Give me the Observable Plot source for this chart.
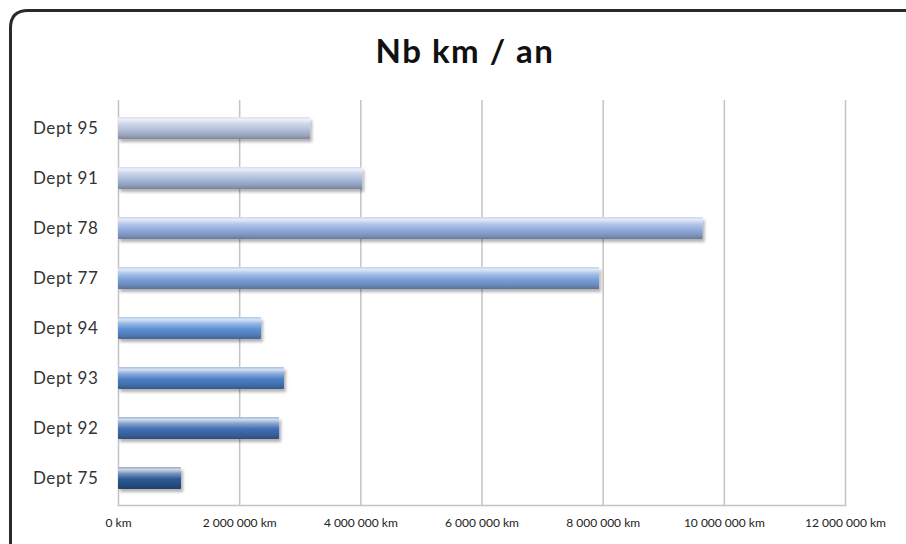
<!DOCTYPE html>
<html>
<head>
<meta charset="utf-8">
<script src="https://cdn.jsdelivr.net/npm/d3@7"></script>
<script src="https://cdn.jsdelivr.net/npm/@observablehq/plot@0.6"></script>
<style>
  html, body { margin: 0; padding: 0; background: #fff; overflow: hidden; }
  #wrap { position: relative; width: 906px; height: 544px; overflow: hidden; background: #fff; font-family: Lato, "Open Sans", sans-serif; }
  #frame { position: absolute; left: 0; top: 0; pointer-events: none; }
  #title { height: 80px; line-height: 1; padding-top: 34px; box-sizing: border-box; text-align: center; padding-left: 24px; font-size: 33px; letter-spacing: 1.5px; font-weight: bold; color: #111; }
</style>
</head>
<body>
<div id="wrap">
  <div id="title">Nb km / an</div>
  <div id="chart"></div>
  <svg id="frame" width="906" height="544"><path d="M10.5,544 L10.5,28 Q10.5,10.5 28,10.5 L906,10.5" fill="none" stroke="#2a2a2a" stroke-width="3"/></svg>
</div>
<script>
const departments = ["Dept 95", "Dept 91", "Dept 78", "Dept 77", "Dept 94", "Dept 93", "Dept 92", "Dept 75"];
const kmPerYear = [3170000, 4030000, 9650000, 7940000, 2360000, 2740000, 2660000, 1040000];
const barColors = ["#b6c2dc", "#aabbdd", "#94aedf", "#7ca2dc", "#5d90d6", "#4c7fc7", "#406eb2", "#2d5996"];
const xTicks = [0, 2000000, 4000000, 6000000, 8000000, 10000000, 12000000];

const data = departments.map((d, i) => ({dept: d, km: kmPerYear[i]}));
const gradId = d => "g" + d.replace(/\s+/g, "");

const fmt = v => d3.format(",")(v).replace(/,/g, "\u00a0") + " km";

const plot = Plot.plot({
  width: 906,
  height: 464,
  marginTop: 20,
  marginBottom: 39,
  marginLeft: 118,
  marginRight: 61,
  style: {fontFamily: "Lato, 'Open Sans', sans-serif", background: "transparent"},
  x: {domain: [0, 12000000], ticks: xTicks, tickFormat: fmt, label: null},
  y: {domain: departments, paddingInner: 0.57, paddingOuter: 0.3, label: null},
  color: {type: "ordinal", domain: departments, range: departments.map(d => `url(#${gradId(d)})`)},
  marks: [
    Plot.ruleX(xTicks, {stroke: "#c4c4c4", strokeWidth: 1.5}),
    Plot.frame({anchor: "bottom", stroke: "#c4c4c4", strokeWidth: 1.5}),
    Plot.barX(data, {y: "dept", x: "km", fill: "dept", rx: 1}),
    Plot.axisX({ticks: xTicks, tickFormat: fmt, tickSize: 0, tickPadding: 13, fontSize: 12, fill: "#222", label: null}),
    Plot.axisY({tickSize: 0, tickPadding: 20, fontSize: 17, fill: "#333", label: null})
  ]
});

const svg = d3.select(plot);
svg.selectAll("g[aria-label='y-axis tick label'] text").style("letter-spacing", "0.6px");
const defs = svg.insert("defs", ":first-child");
const mix = (c, t, k) => d3.interpolateRgb(c, t)(k);
departments.forEach((d, i) => {
  const base = barColors[i];
  const g = defs.append("linearGradient").attr("id", gradId(d)).attr("x1", 0).attr("y1", 0).attr("x2", 0).attr("y2", 1);
  const stops = [
    [0, mix(base, "#ffffff", 0.5)],
    [0.12, mix(base, "#ffffff", 0.75)],
    [0.3, mix(base, "#ffffff", 0.35)],
    [0.55, base],
    [0.82, d3.color(base).darker(0.45).formatHex()],
    [1, d3.color(base).darker(1.0).formatHex()]
  ];
  stops.forEach(([o, c]) => g.append("stop").attr("offset", o).attr("stop-color", c));
});
const filt = defs.append("filter").attr("id", "shadow").attr("x", "-5%").attr("y", "-30%").attr("width", "115%").attr("height", "190%");
filt.append("feDropShadow").attr("dx", 2).attr("dy", 3).attr("stdDeviation", 1.6).attr("flood-color", "#000").attr("flood-opacity", 0.3);
svg.selectAll("g[aria-label='bar'] rect").attr("filter", "url(#shadow)");

document.getElementById("chart").appendChild(plot);
</script>
</body>
</html>
